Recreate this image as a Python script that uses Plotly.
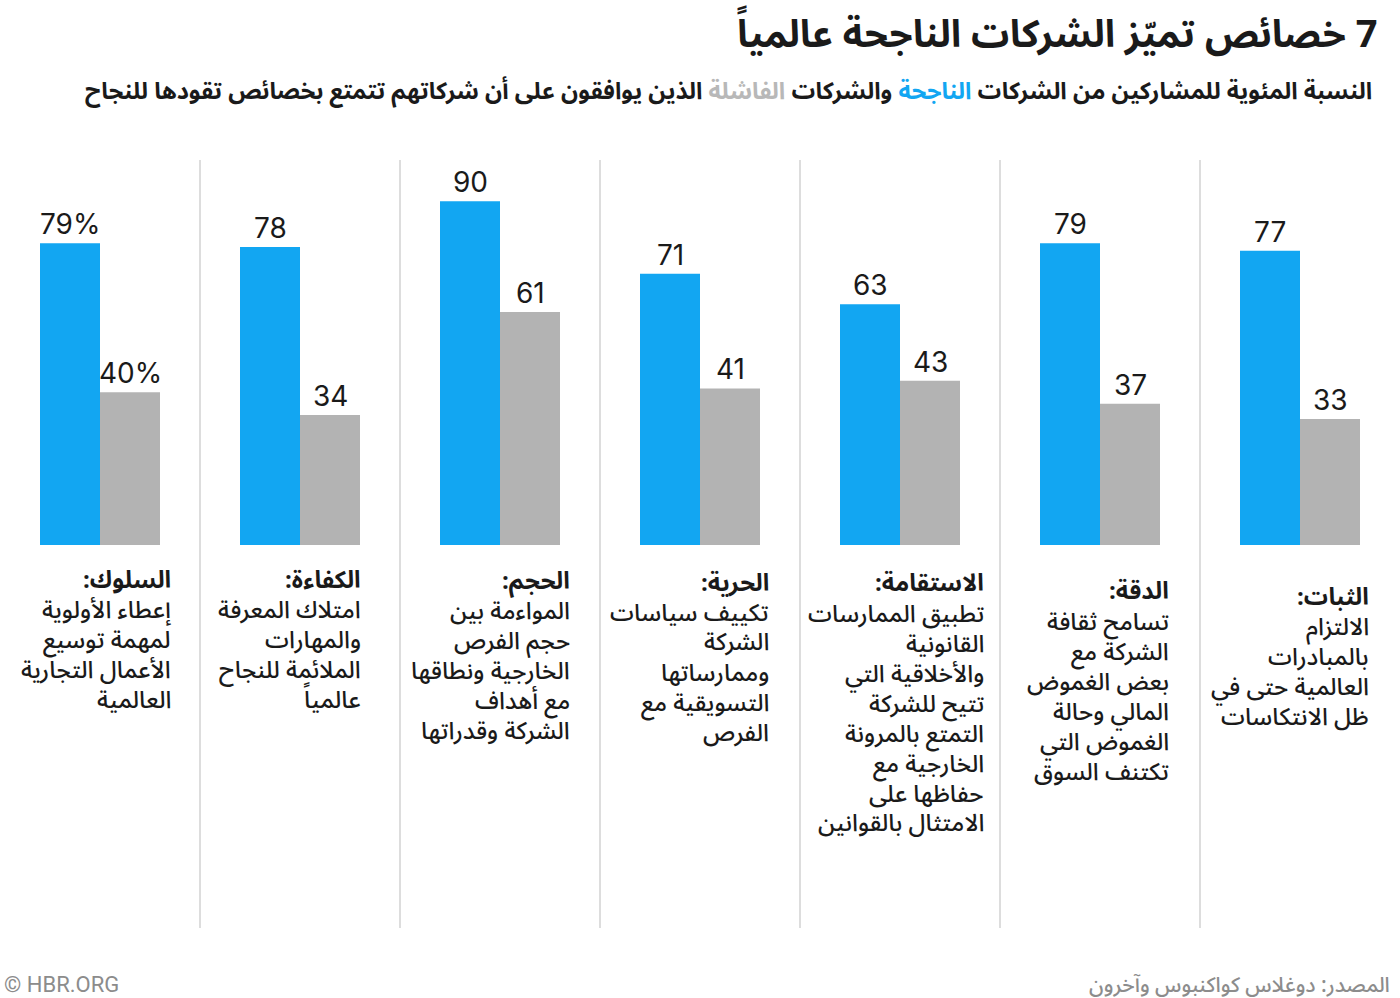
import plotly.graph_objects as go

categories = ["السلوك", "الكفاءة", "الحجم", "الحرية", "الاستقامة", "الدقة", "الثبات"]
successful = [79, 78, 90, 71, 63, 79, 77]
failed = [40, 34, 61, 41, 43, 37, 33]
success_labels = ["79%", "78", "90", "71", "63", "79", "77"]
failed_labels = ["40%", "34", "61", "41", "43", "37", "33"]
descriptions = [
    ["إعطاء الأولوية", "لمهمة توسيع", "الأعمال التجارية", "العالمية"],
    ["امتلاك المعرفة", "والمهارات", "الملائمة للنجاح", "عالمياً"],
    ["المواءمة بين", "حجم الفرص", "الخارجية ونطاقها", "مع أهداف", "الشركة وقدراتها"],
    ["تكييف سياسات", "الشركة", "وممارساتها", "التسويقية مع", "الفرص"],
    ["تطبيق الممارسات", "القانونية", "والأخلاقية التي", "تتيح للشركة", "التمتع بالمرونة",
     "الخارجية مع", "حفاظها على", "الامتثال بالقوانين"],
    ["تسامح ثقافة", "الشركة مع", "بعض الغموض", "المالي وحالة", "الغموض التي", "تكتنف السوق"],
    ["الالتزام", "بالمبادرات", "العالمية حتى في", "ظل الانتكاسات"],
]

BLUE = "#12a6f2"
GRAY = "#b3b3b3"
W, H = 1400, 998
AR = "Noto Sans Arabic, DejaVu Sans, sans-serif"
NUM = "Inter, Roboto, sans-serif"
RLM = "\u200f"

def rtl(s):
    return RLM + s + RLM

def py(px):
    return (H - px) / H

fig = go.Figure()
fig.add_trace(go.Bar(x=categories, y=successful, marker_color=BLUE, marker_line_width=0,
                     name="الناجحة", hoverinfo="skip"))
fig.add_trace(go.Bar(x=categories, y=failed, marker_color=GRAY, marker_line_width=0,
                     name="الفاشلة", hoverinfo="skip"))

shapes = []
for i in range(len(categories) - 1):
    shapes.append(dict(type="line", xref="x", yref="paper", x0=i + 0.5, x1=i + 0.5,
                       y0=py(928), y1=py(160), line=dict(color="#dddddd", width=2)))

annotations = []
# value labels above bars
for i, cat in enumerate(categories):
    for val, lab, dx in ((successful[i], success_labels[i], -30), (failed[i], failed_labels[i], 30)):
        annotations.append(dict(x=i, xref="x", y=val, yref="y", xshift=dx, yshift=0,
                                xanchor="center", yanchor="bottom", showarrow=False, text=lab,
                                font=dict(family=NUM, size=28, color="#1a1a1a")))

# description text blocks (right-aligned), one annotation per line
xshifts = [73, 63, 72, 71, 86, 71, 71]
first_line = [580, 580, 581, 583, 584, 592, 597]
STEP = 30
for i, cat in enumerate(categories):
    lines = [(cat + ":", 700)] + [(l, 500) for l in descriptions[i]]
    for k, (txt, wt) in enumerate(lines):
        annotations.append(dict(x=i, xref="x", y=py(first_line[i] + k * STEP), yref="paper",
                                xshift=xshifts[i], xanchor="right", yanchor="middle",
                                align="right", showarrow=False, text=rtl(txt),
                                font=dict(family=AR, size=24, color="#1a1a1a", weight=wt)))

# title and subtitle
annotations.append(dict(x=1380 / W, xref="paper", y=py(35), yref="paper",
                        xanchor="right", yanchor="middle", showarrow=False,
                        text=rtl("7 خصائص تميّز الشركات الناجحة عالمياً"),
                        font=dict(family=AR, size=38, color="#1a1a1a", weight=700)))
subtitle = ("النسبة المئوية للمشاركين من الشركات "
            "<span style='color:%s'>الناجحة</span> والشركات "
            "<span style='color:%s'>الفاشلة</span> الذين يوافقون على أن شركاتهم تتمتع بخصائص تقودها للنجاح"
            % (BLUE, "#b8b8b8"))
annotations.append(dict(x=1374 / W, xref="paper", y=py(91), yref="paper",
                        xanchor="right", yanchor="middle", showarrow=False,
                        text=rtl(subtitle), font=dict(family=AR, size=23.5, color="#1a1a1a", weight=700)))
# footer
annotations.append(dict(x=1392 / W, xref="paper", y=py(985), yref="paper",
                        xanchor="right", yanchor="middle", showarrow=False,
                        text=rtl("المصدر: دوغلاس كواكنبوس وآخرون"),
                        font=dict(family=AR, size=21, color="#8c8c8c", weight=500)))
annotations.append(dict(x=2 / W, xref="paper", y=py(984), yref="paper",
                        xanchor="left", yanchor="middle", showarrow=False,
                        text="© HBR.ORG", font=dict(family="Roboto, sans-serif", size=22, color="#8c8c8c")))

fig.update_layout(
    width=W, height=H,
    margin=dict(l=0, r=0, t=0, b=0),
    paper_bgcolor="white", plot_bgcolor="white",
    barmode="group", bargap=0.4, bargroupgap=0,
    showlegend=False,
    xaxis=dict(range=[-0.5, 6.5], showticklabels=False, showgrid=False, zeroline=False,
               showline=False, ticks="", fixedrange=True),
    yaxis=dict(range=[0, 100], domain=[py(545), py(163)], showticklabels=False,
               showgrid=False, zeroline=False, showline=False, fixedrange=True),
    shapes=shapes, annotations=annotations,
)

fig.write_html("out.html", config={"displayModeBar": False},
               post_script="document.body.style.margin='0';document.body.style.overflow='hidden';")
